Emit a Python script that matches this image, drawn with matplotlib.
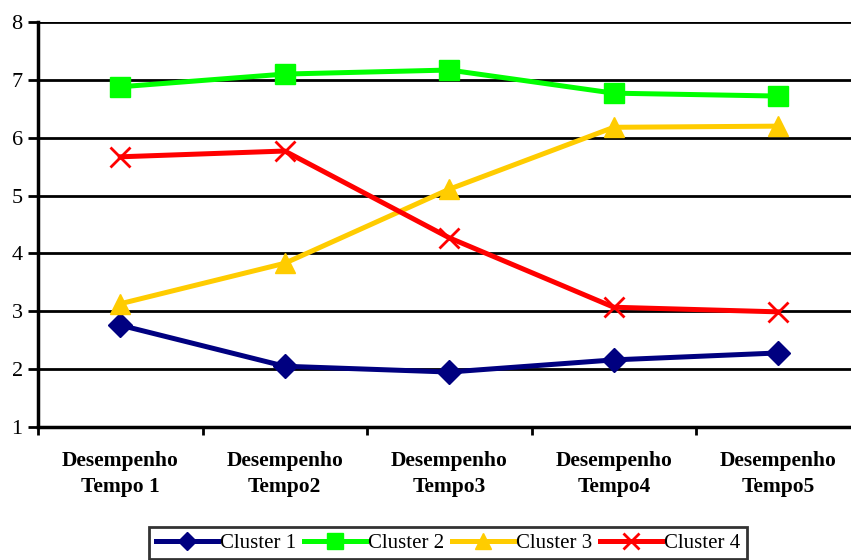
import matplotlib
matplotlib.use("Agg")
import matplotlib.pyplot as plt

categories = ["Desempenho\nTempo 1", "Desempenho\nTempo2", "Desempenho\nTempo3",
              "Desempenho\nTempo4", "Desempenho\nTempo5"]
cluster1 = [2.76, 2.05, 1.95, 2.16, 2.28]
cluster2 = [6.88, 7.10, 7.17, 6.77, 6.72]
cluster3 = [3.13, 3.83, 5.11, 6.18, 6.20]
cluster4 = [5.67, 5.77, 4.27, 3.07, 2.99]
yticks = [1, 2, 3, 4, 5, 6, 7, 8]

plt.rcParams['font.family'] = ['Liberation Serif', 'DejaVu Serif']

fig = plt.figure(figsize=(8.51, 5.6), dpi=100)
ax = fig.add_axes([38/851, 133/560, 822.5/851, 405/560])

x = list(range(len(categories)))
series = [
    ("Cluster 1", cluster1, "#000080", "D", 12),
    ("Cluster 2", cluster2, "#00FF00", "s", 14),
    ("Cluster 3", cluster3, "#FFCC00", "^", 15),
    ("Cluster 4", cluster4, "#FF0000", "x", 14),
]
for name, vals, col, mk, ms in series:
    kw = dict(color=col, lw=3.6, marker=mk, markersize=ms, label=name, zorder=3)
    if mk == "x":
        kw.update(markeredgewidth=2)
    else:
        kw.update(markeredgecolor=col)
    ax.plot(x, vals, **kw)

ax.set_xlim(-0.5, 4.5)
ax.set_ylim(1, 8)
ax.set_yticks(yticks)
ax.set_yticklabels([str(t) for t in yticks], fontsize=16)
ax.set_xticks([i - 0.5 for i in range(6)])
ax.set_xticklabels([])
ax.set_xticks(x, minor=True)
ax.set_xticklabels(categories, minor=True, fontsize=15.5, fontweight='bold',
                   linespacing=1.45)
ax.tick_params(axis='x', which='minor', length=0, pad=17)
ax.tick_params(axis='x', which='major', length=6, width=2, direction='out')
ax.tick_params(axis='y', length=7, width=2, direction='out', pad=4)
ax.yaxis.grid(True, color='black', lw=2)
ax.set_axisbelow(True)
for s in ['top', 'right']:
    ax.spines[s].set_visible(False)
ax.spines['left'].set_linewidth(2.5)
ax.spines['bottom'].set_linewidth(2.5)

leg = fig.legend(loc='center', bbox_to_anchor=(448/851, 1 - 543/560), ncol=4,
                 fontsize=15, frameon=True, fancybox=False, edgecolor='black',
                 handlelength=3.0, handletextpad=0.1, columnspacing=0.35,
                 borderpad=0.3, markerscale=0.8)
leg.get_frame().set_linewidth(2)

fig.savefig("out.png", dpi=100)
